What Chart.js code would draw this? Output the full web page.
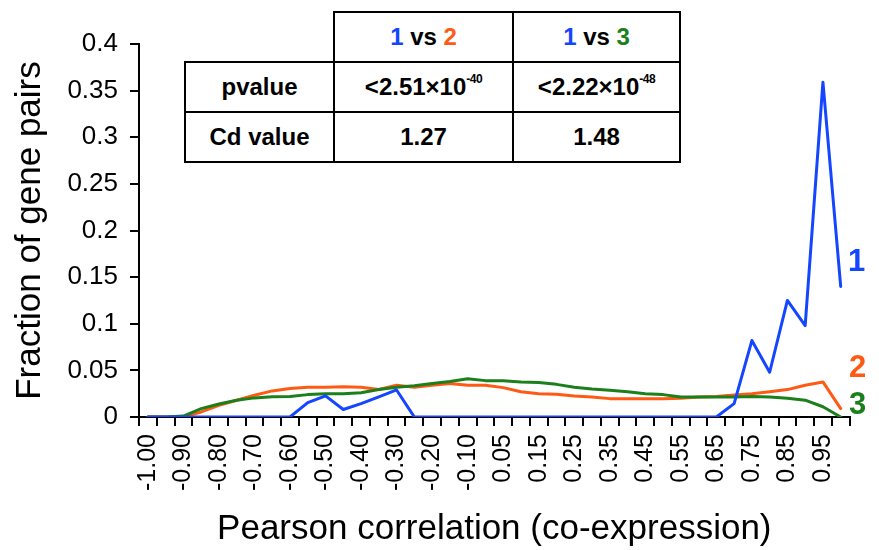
<!DOCTYPE html>
<html>
<head>
<meta charset="utf-8">
<script src="https://cdn.jsdelivr.net/npm/chart.js@4/dist/chart.umd.min.js"></script>
<style>
  html, body { margin: 0; padding: 0; background: #fff; }
  #wrap { position: relative; width: 879px; height: 550px; overflow: hidden; }
  canvas { position: absolute; left: 0; top: 0; }
  .cell {
    position: absolute; box-sizing: border-box; border: 2px solid #000;
    display: flex; align-items: center; justify-content: center;
    font-family: "Liberation Sans", Arial, sans-serif; font-weight: bold; font-size: 24px; color: #000;
    background: #fff; white-space: nowrap;
  }
  .cell sup { font-size: 12px; position: relative; top: -3px; letter-spacing: -0.5px; }
  .b { color: #1446ff; } .o { color: #ff5a13; } .g { color: #1b7f1b; }
</style>
</head>
<body>
<div id="wrap">
  <canvas id="c" width="879" height="550"></canvas>
  <div class="cell" style="left:333px;top:11px;width:181px;height:52px;"><span><span class="b">1</span> vs <span class="o">2</span></span></div>
  <div class="cell" style="left:512px;top:11px;width:169px;height:52px;"><span><span class="b">1</span> vs <span class="g">3</span></span></div>
  <div class="cell" style="left:184px;top:61px;width:151px;height:52px;">pvalue</div>
  <div class="cell" style="left:333px;top:61px;width:181px;height:52px;"><span>&lt;2.51×10<sup>-40</sup></span></div>
  <div class="cell" style="left:512px;top:61px;width:169px;height:52px;"><span>&lt;2.22×10<sup>-48</sup></span></div>
  <div class="cell" style="left:184px;top:111px;width:151px;height:52px;">Cd value</div>
  <div class="cell" style="left:333px;top:111px;width:181px;height:52px;">1.27</div>
  <div class="cell" style="left:512px;top:111px;width:169px;height:52px;">1.48</div>
</div>
<script>
// ---- data ----
const categories = [
  "-1.00","-0.95","-0.90","-0.85","-0.80","-0.75","-0.70","-0.65","-0.60","-0.55",
  "-0.50","-0.45","-0.40","-0.35","-0.30","-0.25","-0.20","-0.15","-0.10","0.00",
  "0.05","0.10","0.15","0.20","0.25","0.30","0.35","0.40","0.45","0.50",
  "0.55","0.60","0.65","0.70","0.75","0.80","0.85","0.90","0.95","1.00"
];
const series1 = [
  0,0,0,0,0,0,0,0,0,0.0155,
  0.0227,0.008,0.0144,0.0216,0.029,0,0,0,0,0,
  0,0,0,0,0,0,0,0,0,0,
  0,0,0,0.0144,0.082,0.048,0.125,0.098,0.359,0.140
];
const series2 = [
  0,0,0,0.0054,0.0126,0.018,0.0234,0.028,0.0306,0.032,
  0.032,0.0324,0.032,0.0295,0.034,0.032,0.034,0.036,0.034,0.034,
  0.0315,0.027,0.025,0.0244,0.0226,0.0215,0.0197,0.0197,0.0197,0.0197,
  0.020,0.0215,0.022,0.0237,0.025,0.027,0.0294,0.034,0.0376,0.009
];
const series3 = [
  0,0,0.001,0.009,0.014,0.018,0.0205,0.0216,0.022,0.024,
  0.025,0.025,0.026,0.0295,0.032,0.0335,0.036,0.038,0.041,0.039,
  0.039,0.0376,0.037,0.035,0.032,0.030,0.0287,0.027,0.025,0.024,
  0.0215,0.0215,0.0215,0.0215,0.022,0.0215,0.020,0.018,0.011,0
];
const seriesNames = ["1", "2", "3"];
const yMin = 0, yMax = 0.4, yStep = 0.05;

// ---- styles ----
const colors = { s1: "#1446ff", s2: "#ff5a13", s3: "#1b7f1b" };
const FONT = "'Liberation Sans', Arial, sans-serif";

const endLabels = {
  id: "endLabels",
  afterDatasetsDraw(chart, args, opts) {
    const ctx = chart.ctx;
    ctx.save();
    ctx.font = "bold 31px " + FONT;
    ctx.textAlign = "center";
    ctx.textBaseline = "middle";
    chart.data.datasets.forEach((ds, i) => {
      const meta = chart.getDatasetMeta(i);
      const pt = meta.data[meta.data.length - 1];
      const off = opts.offsets[i];
      ctx.fillStyle = ds.borderColor;
      ctx.fillText(ds.label, pt.x + off[0], pt.y + off[1]);
    });
    ctx.restore();
  }
};

new Chart(document.getElementById("c"), {
  type: "line",
  data: {
    labels: categories,
    datasets: [
      { label: seriesNames[0], data: series1, borderColor: colors.s1 },
      { label: seriesNames[2], data: series3, borderColor: colors.s3 },
      { label: seriesNames[1], data: series2, borderColor: colors.s2 }
    ]
  },
  options: {
    responsive: false,
    animation: false,
    devicePixelRatio: 1,
    layout: { padding: { top: 44, right: 24, left: 0, bottom: 0 } },
    elements: {
      line: { borderWidth: 3, tension: 0, fill: false, borderCapStyle: "round", borderJoinStyle: "round" },
      point: { radius: 0, hoverRadius: 0 }
    },
    plugins: {
      legend: { display: false },
      tooltip: { enabled: false },
      endLabels: { offsets: [[16, -24], [17, -12], [17, -40]] }
    },
    scales: {
      x: {
        type: "category",
        offset: true,
        afterFit(scale) { scale.height = 133; },
        grid: { display: true, offset: true, drawOnChartArea: false, drawTicks: true, tickLength: 9, color: "#000", lineWidth: 2 },
        border: { display: true, color: "#000", width: 2 },
        ticks: {
          autoSkip: false, maxRotation: 90, minRotation: 90, padding: 8,
          color: "#000", font: { family: FONT, size: 25 },
          callback: (v, i) => (i % 2 === 0 ? categories[i] : "")
        },
        title: {
          display: true, text: "Pearson correlation (co-expression)", color: "#000",
          font: { family: FONT, size: 35, lineHeight: 1.2 }, padding: { top: 0, bottom: 0 }
        }
      },
      y: {
        min: yMin, max: yMax,
        afterFit(scale) { scale.width = 139; },
        grid: { display: true, drawOnChartArea: false, drawTicks: true, tickLength: 9, color: "#000", lineWidth: 2 },
        border: { display: true, color: "#000", width: 2 },
        ticks: {
          stepSize: yStep, padding: 12, color: "#000", font: { family: FONT, size: 26 },
          callback: (v) => String(+Number(v).toFixed(2))
        },
        title: {
          display: true, text: "Fraction of gene pairs", color: "#000",
          font: { family: FONT, size: 35, lineHeight: 1.2 }, padding: { top: 9, bottom: 0 }
        }
      }
    }
  },
  plugins: [endLabels]
});
</script>
</body>
</html>
